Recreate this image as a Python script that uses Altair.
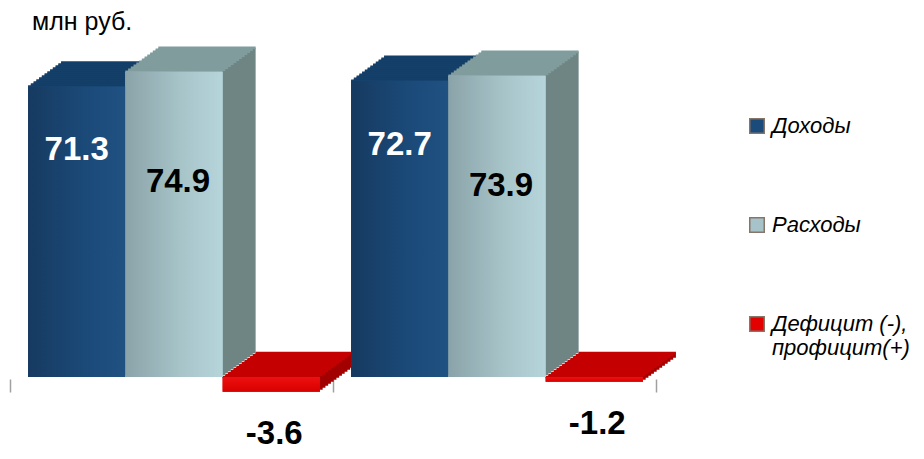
import altair as alt
import pandas as pd

# ---- data ----
groups = ["Период 1", "Период 2"]
series = ["Доходы", "Расходы", "Дефицит (-), профицит(+)"]
values_period1 = [71.3, 74.9, -3.6]
values_period2 = [72.7, 73.9, -1.2]
unit_label = "млн руб."

rows = []
for g, vals in zip(groups, [values_period1, values_period2]):
    for s, v in zip(series, vals):
        rows.append({"group": g, "series": s, "value": v, "label": f"{v:.1f}"})
df = pd.DataFrame(rows)

# ---- styles ----
front_colors = ["#1a4b7b", "#a6c3c9", "#e20000"]
top_colors = ["#133f68", "#819c9d", "#c40000"]
side_colors = ["#0e3256", "#6f8584", "#a20000"]
NUM_FONT = "Liberation Sans Narrow, Liberation Sans, Arial"
TXT_FONT = "Liberation Sans, Arial"

W, H = 646, 328
BAND = W / 2
N = 12
DX, DY = 33.0, 24.0

X = alt.X("group:N", sort=groups, title=None,
          scale=alt.Scale(paddingInner=0, paddingOuter=0),
          axis=alt.Axis(labels=False, domain=False, ticks=True, grid=False,
                        tickColor="#a0a0a0", tickSize=13, tickWidth=1.5,
                        tickBand="extent", title=None))
YS = alt.Scale(domain=[-0.5, 80], nice=False, zero=False)


def xo(shift):
    return alt.XOffset("series:N", sort=series,
                       scale=alt.Scale(type="band", domain=series,
                                       range=[shift, BAND + shift],
                                       paddingInner=0, paddingOuter=0.16, align=0.58))


def col(rng, legend=None):
    return alt.Color("series:N", sort=series,
                     scale=alt.Scale(domain=series, range=rng), legend=legend)


base = alt.Chart(df)
layers = []

# depth: side + top faces, drawn from back to front
for k in range(N, -1, -1):
    sx = DX * k / N
    sy = DY * k / N
    if k > 0:
        layers.append(
            base.mark_bar(yOffset=-sy, y2Offset=-sy).encode(
                x=X, xOffset=xo(sx),
                y=alt.Y("value:Q", scale=YS, axis=None), y2=alt.datum(0),
                color=col(side_colors)))
    layers.append(
        base.transform_calculate(top="max(datum.value, 0)")
        .mark_bar(yOffset=-sy - 1.3, y2Offset=-sy + 1.3).encode(
            x=X, xOffset=xo(sx),
            y=alt.Y("top:Q", scale=YS, axis=None), y2="top:Q",
            color=col(top_colors)))

legend = alt.Legend(
    title=None, orient="none", legendX=736, legendY=64,
    symbolType="square", symbolSize=210, symbolStrokeColor="#86766a",
    symbolStrokeWidth=1.5, symbolOpacity=1,
    labelFont=TXT_FONT, labelFontSize=22, labelFontStyle="italic",
    labelColor="black", labelOffset=4, rowPadding=77, labelLimit=400,
    labelExpr="datum.label == 'Дефицит (-), профицит(+)' ? ['Дефицит (-),', 'профицит(+)'] : datum.label",
)

# front faces
layers.append(
    base.mark_bar().encode(
        x=X, xOffset=xo(0),
        y=alt.Y("value:Q", scale=YS, axis=None), y2=alt.datum(0),
        color=col(front_colors, legend)))

grad_dark = alt.LinearGradient(gradient="linear", x1=0, x2=1, y1=0, y2=0, stops=[
    alt.GradientStop(color="#163a60", offset=0),
    alt.GradientStop(color="#1b4a79", offset=0.6),
    alt.GradientStop(color="#1f5182", offset=1)])
grad_light = alt.LinearGradient(gradient="linear", x1=0, x2=1, y1=0, y2=0, stops=[
    alt.GradientStop(color="#8aa3a9", offset=0),
    alt.GradientStop(color="#a6c3c8", offset=0.55),
    alt.GradientStop(color="#b6d5da", offset=1)])
grad_red = alt.LinearGradient(gradient="linear", x1=0, x2=0, y1=0, y2=1, stops=[
    alt.GradientStop(color="#ee1010", offset=0),
    alt.GradientStop(color="#d80000", offset=1)])

for s, g in zip(series, [grad_dark, grad_light, grad_red]):
    layers.append(
        base.transform_filter(alt.datum.series == s).mark_bar(fill=g).encode(
            x=X, xOffset=xo(0),
            y=alt.Y("value:Q", scale=YS, axis=None), y2=alt.datum(0)))

# value labels
label_styles = [(series[0], "white", 0, 64), (series[1], "black", 4, 110), (series[2], "black", 3, 42)]
for s, c, ddx, ddy in label_styles:
    layers.append(
        base.transform_filter(alt.datum.series == s).mark_text(
            dx=ddx, dy=ddy, color=c, font=NUM_FONT, fontSize=33, fontWeight="bold",
            baseline="middle", align="center").encode(
            x=X, xOffset=xo(0),
            y=alt.Y("value:Q", scale=YS, axis=None), text="label:N"))

chart = alt.layer(*layers).resolve_scale(
    xOffset="independent", color="independent"
).properties(
    width=W, height=H,
    background="white",
    title=alt.TitleParams(text=unit_label, anchor="start", frame="group", dx=22,
                          offset=-9, baseline="alphabetic", font=TXT_FONT,
                          fontSize=25, fontWeight="normal", color="black"),
    autosize="none",
    padding={"left": 2, "top": 43, "right": 260, "bottom": 72},
).configure_view(strokeWidth=0, strokeOpacity=0)

chart.save("out.html", embed_options={"renderer": "svg", "actions": False})
